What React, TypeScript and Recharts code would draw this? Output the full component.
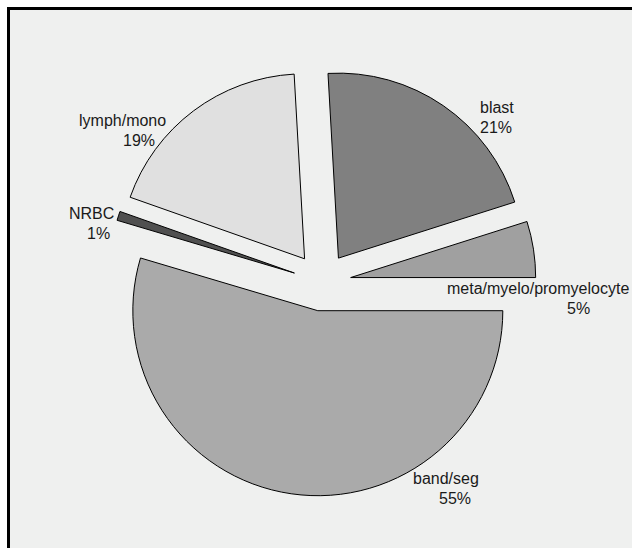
import { PieChart, Pie, Cell } from 'recharts';

const CATEGORIES = ['meta/myelo/promyelocyte', 'blast', 'lymph/mono', 'NRBC', 'band/seg'];
const VALUES = [4.9, 21.0, 18.7, 0.8, 54.6];
const COLORS = ['#a0a0a0', '#808080', '#e0e0e0', '#505050', '#aaaaaa'];

// pie geometry
const CX = 322;
const CY = 282;
const RADIUS = 185;
const EXPLODE = 29;

// text placement per slice: [line1 x, line1 baseline, line2 x, line2 baseline]
const LABEL_LAYOUT = [
    [447, 294, 567, 314],
    [480, 113, 480, 133],
    [79, 126, 123, 146],
    [69, 219, 87, 239],
    [413, 484, 439, 504],
];

const data = CATEGORIES.map((name, i) => ({ name, value: VALUES[i] }));
const total = VALUES.reduce((a, b) => a + b, 0);

// mid angle of each slice, counter-clockwise from 3 o'clock
const midAngles: number[] = [];
let acc = 0;
VALUES.forEach(v => {
    const span = (v / total) * 360;
    midAngles.push(acc + span / 2);
    acc += span;
});

function SliceLabel(props: any, only: number) {
    const { index, percent } = props;
    if (index !== only) return null;
    const [x1, y1, x2, y2] = LABEL_LAYOUT[index];
    return (
        <g>
            <text x={x1} y={y1} fill="#1a1a1a" fontSize={16} fontFamily="'Liberation Sans', Arial, sans-serif">
                {CATEGORIES[index]}
            </text>
            <text x={x2} y={y2} fill="#1a1a1a" fontSize={16} fontFamily="'Liberation Sans', Arial, sans-serif">
                {Math.round(percent * 100)}%
            </text>
        </g>
    );
}

export default function App() {
    return (
        <div style={{ position: 'absolute', left: 0, top: 0, width: 634, height: 548, background: '#fff', overflow: 'hidden' }}>
            <div
                style={{
                    position: 'absolute', left: 7, top: 7, width: 622, height: 541,
                    borderTop: '3px solid #000', borderLeft: '3px solid #000', background: '#eff0ef',
                }}
            />
            <div style={{ position: 'absolute', left: 0, top: 0 }}>
                <PieChart width={634} height={548} margin={{ top: 0, right: 0, bottom: 0, left: 0 }}>
                    {midAngles.map((mid, k) => {
                        const rad = (mid * Math.PI) / 180;
                        return (
                            <Pie
                                key={k}
                                data={data}
                                dataKey="value"
                                nameKey="name"
                                cx={CX + EXPLODE * Math.cos(rad)}
                                cy={CY - EXPLODE * Math.sin(rad)}
                                outerRadius={RADIUS}
                                startAngle={0}
                                endAngle={360}
                                labelLine={false}
                                label={(p: any) => SliceLabel(p, k)}
                                isAnimationActive={false}
                            >
                                {data.map((_, i) => (
                                    <Cell
                                        key={`cell-${i}`}
                                        fill={i === k ? COLORS[i] : 'none'}
                                        stroke={i === k ? '#000' : 'none'}
                                        strokeWidth={1}
                                    />
                                ))}
                            </Pie>
                        );
                    })}
                </PieChart>
            </div>
        </div>
    );
}
